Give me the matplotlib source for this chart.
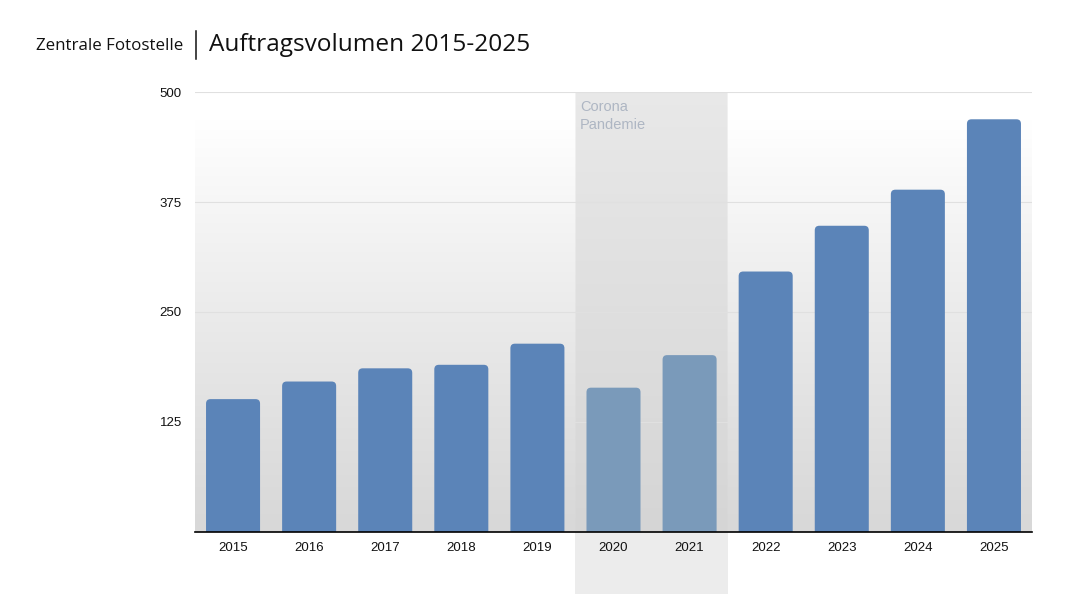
import numpy as np
import matplotlib
matplotlib.use("Agg")
import matplotlib.pyplot as plt
from matplotlib.patches import FancyBboxPatch, Rectangle
from matplotlib.lines import Line2D

years = ["2015", "2016", "2017", "2018", "2019", "2020", "2021", "2022", "2023", "2024", "2025"]
values = [151, 171, 186, 190, 214, 164, 201, 296, 348, 389, 469]
pandemic_years = ["2020", "2021"]
yticks = [125, 250, 375, 500]
title_left = "Zentrale Fotostelle"
title_right = "Auftragsvolumen 2015-2025"
shade_label = "Corona\nPandemie"

C_MAIN = "#5b84b8"
C_PAND = "#7a9aba"

plt.rcParams['font.family'] = ['Liberation Sans', 'DejaVu Sans']

fig = plt.figure(figsize=(10.8, 5.94), dpi=100)
ax = fig.add_axes([195/1080, 62/594, 837/1080, 440/594])
n = len(years)
ax.set_xlim(-0.5, n - 0.5)
ax.set_ylim(0, 500)

# background gradient with pandemic shade
H, W = 500, 1100
yy = np.linspace(500, 0, H)[:, None]
xx = np.linspace(-0.5, n - 0.5, W)[None, :]
top = 468.0
bg = np.where(yy > top, 1.0, 0.847 + (1.0 - 0.847) * (yy / top) ** 1.15)
bg = np.broadcast_to(bg, (H, W)).copy()
p_idx = [years.index(p) for p in pandemic_years]
s0, s1 = min(p_idx) - 0.5, max(p_idx) + 0.5
shade = 0.835 + (0.912 - 0.835) * (yy / 500.0)
shade = np.broadcast_to(shade, (H, W))
mask = np.broadcast_to((xx >= s0) & (xx <= s1), (H, W))
bg[mask] = shade[mask]
ax.imshow(np.dstack([bg, bg, bg]), extent=(-0.5, n - 0.5, 0, 500), aspect='auto',
          zorder=0, interpolation='bilinear')

# shade below axis
ax.add_patch(Rectangle((s0, -62/440), s1 - s0, 62/440, transform=ax.get_xaxis_transform(),
                       facecolor="#ececec", edgecolor='none', clip_on=False, zorder=0.5))

# grid
for t in yticks:
    ax.axhline(t, color="#e0e0e0", lw=0.8, zorder=1)

# bars with rounded tops
colors = [C_PAND if y in pandemic_years else C_MAIN for y in years]
bars = ax.bar(range(n), values, width=0.71, color=colors, zorder=2)
rx = 4.5 / 76.1
ry = 4.5 / 0.88
for b, c in zip(bars, colors):
    x, w, h = b.get_x(), b.get_width(), b.get_height()
    b.remove()
    fb = FancyBboxPatch((x, -ry), w, h + ry,
                        boxstyle=f"round,pad=0,rounding_size={rx}",
                        mutation_aspect=ry / rx, facecolor=c, edgecolor='none', zorder=2)
    ax.add_patch(fb)

for s in ["top", "right", "left"]:
    ax.spines[s].set_visible(False)
ax.spines["bottom"].set_color("black")
ax.spines["bottom"].set_linewidth(1.2)
ax.spines["bottom"].set_zorder(3)

ax.set_xticks(range(n))
ax.set_xticklabels(years, fontsize=9.5, color="#111111")
ax.set_yticks(yticks)
ax.set_yticklabels([str(t) for t in yticks], fontsize=9.5, color="#111111")
ax.tick_params(axis='both', length=0)
ax.tick_params(axis='x', pad=7.5)
ax.tick_params(axis='y', pad=9.5)

ax.text(s0 + 0.06, 490.5, shade_label, fontsize=10.5, color="#aeb6c3", va='top', ha='left',
        linespacing=1.32, zorder=3)

# title
fig.text(36/1080, 1 - 46/594, title_left, fontsize=12.2, va='center', ha='left',
         family=['Open Sans', 'DejaVu Sans'], color="#111111")
fig.add_artist(Line2D([196/1080, 196/1080], [1 - 31/594, 1 - 59/594], color="#111111", lw=1.1))
fig.text(209/1080, 1 - 45/594, title_right, fontsize=17.6, va='center', ha='left',
         family=['Open Sans', 'DejaVu Sans'], color="#111111")

fig.savefig("out.png", dpi=100)
